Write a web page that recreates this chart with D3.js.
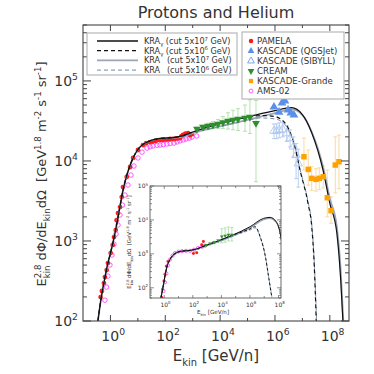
<!DOCTYPE html>
<html>
<head>
<meta charset="utf-8">
<script src="https://cdn.jsdelivr.net/npm/d3@7"></script>
<style>
body { margin: 0; background: #fff; }
text { font-family: "DejaVu Sans", sans-serif; fill: #333; white-space: pre; }
</style>
</head>
<body>
<svg id="chart" width="374" height="374"></svg>
<script>
// ---- model curves, main panel (E in GeV/n, flux in E^2.8 units) ----
var kraG7E = [0.35,0.45,0.6,0.8,1,1.5,2,3,4,6,10,15,30,60,100,200,400,1e3,1e4,1e5,1e6,4e6,1e7,2.2e7,5.6e7,1e8,1.8e8,2.5e8,3e8];
var kraG7F = [100,185,320,520,700,1300,2200,4600,6700,10000,13900,16000,18000,19000,19300,19600,20500,23000,29500,35500,42600,46300,38000,22400,7800,2950,1260,320,100];
var kraG6E = [0.35,0.45,0.6,0.8,1,1.5,2,3,4,6,10,15,30,60,100,200,400,1e3,1e4,1e5,3e5,1e6,1.5e6,3e6,5.4e6,8.1e6,1.6e7,2.2e7,2.7e7,3.2e7];
var kraG6F = [100,185,320,520,700,1300,2200,4600,6700,10000,13900,16000,18000,19000,19300,19600,20500,23000,29500,35000,37000,36000,34000,26000,14800,7800,2950,1480,500,100];
var kra7E = [0.35,0.45,0.6,0.8,1,1.5,2,3,4,6,10,15,30,60,100,200,400,1e3,1e4,1e5,1e6,4e6,1e7,2.2e7,5.6e7,1e8,1.8e8,2.5e8,3.1e8];
var kra7F = [100,185,320,520,700,1300,2200,4600,6700,10000,13900,16000,18000,19000,19300,19500,20000,22300,27000,32500,39500,44000,37500,23000,8600,3400,1500,420,100];
var kra6E = [0.35,0.45,0.6,0.8,1,1.5,2,3,4,6,10,15,30,60,100,200,400,1e3,1e4,1e5,3e5,1e6,1.5e6,3e6,5.4e6,8.1e6,1.6e7,2.2e7,2.7e7,3.3e7];
var kra6F = [100,185,320,520,700,1300,2200,4600,6700,10000,13900,16000,18000,19000,19300,19500,20000,22300,27000,32000,34500,33500,32000,25000,14800,8000,3100,1600,560,100];

// ---- data sets, main panel ----
var pamelaE = [0.44,0.49,0.58,0.63,0.73,0.81,1.02,1.21,1.35,1.56,1.69,1.89,2.24,2.58,2.87,3.92,5.2,6.7,10.1,15.4,20,27.7,35,45,64,80,100,120,149,190,230,280,344,380,443,540,673,800,942];
var pamelaF = [199,237,298,354,433,530,706,889,1120,1370,1820,2230,2650,3540,4720,6300,8400,10900,13700,15800,16700,17200,17500,17800,18200,18300,18500,18600,18800,18900,19000,19200,19300,20300,21100,22000,22300,21000,21700];
var amsE = [0.63,0.72,0.81,0.96,1.14,1.35,1.6,1.89,2.23,2.75,3.4,4.37,5.6,7.2,10.1,14.2,21.5,28,35.7,50,64,85,115,150,208,270,344,450,569,750,942,1400];
var amsF = [182,265,364,500,667,915,1220,1580,2110,2810,3750,5000,6670,8640,10900,12900,14500,15000,15400,15700,15800,16000,16300,16500,16700,17300,17800,18300,18800,19300,19900,20500];
var creamE  = [1430,2370,3600,5480,8350,12700,19300,29400,44800,80500,122000,203000];
var creamF  = [25100,26500,27300,28100,28900,30200,31600,32500,33400,34400,35400,29500];
var creamHi = [26500,28000,29500,31000,33000,36000,40000,43000,45000,50000,58000,57000];
var creamLo = [23800,25000,25300,25500,25500,25500,25000,24500,24000,23500,22000,5500];
var qgsE = [9.2e5,1.4e6,1.8e6,2.3e6,3.0e6,3.8e6,4.9e6];
var qgsF = [47200,40800,53000,56100,43300,39700,37500];
var sibE  = [9.2e5,1.15e6,1.44e6,1.91e6,2.7e6,3.55e6,4.7e6,5.9e6,7.1e6];
var sibF  = [23700,23700,24300,24800,22100,19200,15100,11900,9300];
var sibHi = [29000,29000,30000,30500,27500,24500,20000,16500,14000];
var sibLo = [19000,19000,19500,20000,17500,15000,11000,6000,4700];
var grandeE  = [1.14e7,1.64e7,2.18e7,3.12e7,4.12e7,5.77e7,8.07e7,1.11e8,1.58e8,2.15e8];
var grandeF  = [11300,7850,6070,5890,6070,6350,3470,2390,8890,9780];
var grandeHi = [19300,13700,8500,8000,8200,8700,7700,3550,20000,21000];
var grandeLo = [7700,5000,4300,4200,4400,4600,2000,1660,4000,4500];

// ---- inset panel ----
var inG7E = [0.59,0.85,1.12,1.47,2.5,5.6,16.6,63,187,550,4800,69000,1.03e6,8.9e6,2.6e7,6.9e7,1.3e8,1.6e8];
var inG7F = [52,115,224,390,680,1020,1200,1260,1400,1670,2330,3650,6320,11100,11900,8870,4140,2500];
var inG6E = [0.59,0.85,1.12,1.47,2.5,5.6,16.6,63,187,550,4800,69000,3e5,1e6,2.3e6,5.2e6,1.2e7,2e7,3.4e7];
var inG6F = [52,115,224,390,680,1020,1200,1260,1400,1670,2330,3650,4500,5400,6300,3200,850,220,52];
var in7E = [0.59,0.85,1.12,1.47,2.5,5.6,16.6,63,187,550,4800,69000,1.03e6,8.9e6,2.6e7,6.9e7,1.3e8,1.6e8];
var in7F = [52,115,224,390,680,1020,1200,1260,1390,1630,2200,3400,5800,10200,11200,8600,4300,2700];
var in6E = [0.59,0.85,1.12,1.47,2.5,5.6,16.6,63,187,550,4800,69000,3e5,1e6,2.3e6,5.2e6,1.2e7,2e7,3.5e7];
var in6F = [52,115,224,390,680,1020,1200,1260,1390,1630,2200,3400,4200,5000,5800,3100,850,220,52];
var inPamE = [0.66,0.77,0.95,1.12,1.42,1.82,110,186,420,550];
var inPamF = [52,91,158,250,430,600,1020,1070,1860,2330];
var inAmsE = [0.88,1.12,1.42,1.82,2.5,3.8,5.6,10,17.5,33,63,120,230,445,720];
var inAmsF = [80,145,263,457,680,890,1050,1170,1200,1230,1230,1320,1480,1620,1740];
var inCreamE  = [850,1620,3100,5900,10700,18300,31000,54000];
var inCreamF  = [1810,2000,2200,2450,3240,3400,3640,3640];
var inCreamHi = [1900,2100,2350,2650,5500,5800,6200,6000];
var inCreamLo = [1720,1900,2050,2250,2100,2200,2400,2400];

var yMajor = [1e2,1e3,1e4,1e5];
var xLabelExp = [0,2,4,6,8];
var inYMajor = [1e2,1e3,1e4,1e5];
var modelCuts = ["7","6","7","6"];
var dataRows = ["PAMELA","KASCADE (QGSJet)","KASCADE (SIBYLL)","CREAM","KASCADE-Grande","AMS-02"];

var svg = d3.select("#chart");
svg.append("rect").attr("width",374).attr("height",374).attr("fill","#fff");

function zip(a,b){ return a.map(function(v,i){ return [v,b[i]]; }); }

// text with super/subscripts; kind 1 sup, -1 sub; back=true stacks on previous part
function rich(g, parts, fs){
  var t = g.append("text").attr("font-size", fs);
  var cur = 0, prev = null;
  parts.forEach(function(p){
    var s = p[0], k = p[1] || 0, back = p[2];
    var target = k === 1 ? -0.42*fs : (k === -1 ? 0.3*fs : 0);
    var ts = t.append("tspan").text(s).attr("dy", target - cur)
              .attr("font-size", k ? fs*0.66 : fs);
    if (back === true && prev) ts.attr("dx", -prev.node().getComputedTextLength());
    else if (typeof back === "number") ts.attr("dx", back);
    cur = target; prev = ts;
  });
  return t;
}

var fluxParts = [["E"],["kin",-1],["2.8",1,true],[" dΦ/dE"],["kin",-1],["dΩ  [GeV"],["1.8",1],[" m"],["-2",1],[" s"],["-1",1],[" sr"],["-1",1],["]"]];
var ekinParts = [["E"],["kin",-1],[" [GeV/n]"]];

function panel(opt){
  var x = d3.scaleLog().domain(opt.xd).range([opt.l,opt.r]);
  var y = d3.scaleLog().domain(opt.yd).range([opt.b,opt.t]);
  var g = svg.append("g");
  g.append("rect").attr("x",opt.l).attr("y",opt.t).attr("width",opt.r-opt.l).attr("height",opt.b-opt.t)
   .attr("fill","#fff");
  var cid = "clip"+opt.id;
  g.append("clipPath").attr("id",cid).append("rect")
   .attr("x",opt.l).attr("y",opt.t).attr("width",opt.r-opt.l).attr("height",opt.b-opt.t);
  var plot = g.append("g").attr("clip-path","url(#"+cid+")");

  // y ticks (major + minor, both sides)
  var yt = g.append("g").attr("stroke","#444").attr("stroke-width",opt.tw);
  var d0 = Math.floor(Math.log10(opt.yd[0])), d1 = Math.ceil(Math.log10(opt.yd[1]));
  for (var e = d0; e <= d1; e++){
    for (var m = 1; m < 10; m++){
      var v = m*Math.pow(10,e);
      if (v < opt.yd[0] || v > opt.yd[1]) continue;
      var len = m === 1 ? opt.yMaj : opt.yMin;
      yt.append("line").attr("x1",opt.l).attr("x2",opt.l+len).attr("y1",y(v)).attr("y2",y(v));
      yt.append("line").attr("x1",opt.r).attr("x2",opt.r-len).attr("y1",y(v)).attr("y2",y(v));
    }
  }
  // x ticks each decade, long on labelled decades
  for (var ex = Math.ceil(Math.log10(opt.xd[0])); ex <= Math.floor(Math.log10(opt.xd[1])); ex++){
    var xv = x(Math.pow(10,ex));
    if (xv <= opt.l+0.5) continue;
    var ln = ex % 2 === 0 ? opt.xMaj : opt.xMin;
    yt.append("line").attr("x1",xv).attr("x2",xv).attr("y1",opt.b).attr("y2",opt.b-ln);
    yt.append("line").attr("x1",xv).attr("x2",xv).attr("y1",opt.t).attr("y2",opt.t+ln);
  }
  g.append("rect").attr("x",opt.l).attr("y",opt.t).attr("width",opt.r-opt.l).attr("height",opt.b-opt.t)
   .attr("fill","none").attr("stroke","#444").attr("stroke-width",opt.fw);

  // tick labels
  opt.yLab.forEach(function(v){
    rich(g, [["10"],[String(Math.round(Math.log10(v))),1]], opt.fs)
      .attr("x",opt.l-opt.yPad).attr("y",y(v)+opt.fs*0.36).attr("text-anchor","end");
  });
  xLabelExp.forEach(function(ex){
    rich(g, [["10"],[String(ex),1]], opt.fs)
      .attr("x",x(Math.pow(10,ex))+opt.fs*0.2).attr("y",opt.b+opt.xPad).attr("text-anchor","middle");
  });
  return {x:x, y:y, g:g, plot:plot};
}

function drawCurve(p, E, F, color, w, dash){
  var line = d3.line().x(function(d){ return p.x(d[0]); }).y(function(d){ return p.y(d[1]); })
               .curve(d3.curveMonotoneX);
  p.plot.append("path").datum(zip(E,F)).attr("d",line).attr("fill","none")
    .attr("stroke",color).attr("stroke-width",w).attr("stroke-dasharray",dash || null);
}
function drawErr(p, E, lo, hi, color, cap){
  var g = p.plot.append("g").attr("stroke",color).attr("stroke-width",0.8);
  E.forEach(function(e,i){
    var xx = p.x(e);
    g.append("line").attr("x1",xx).attr("x2",xx).attr("y1",p.y(lo[i])).attr("y2",p.y(hi[i]));
    g.append("line").attr("x1",xx-cap).attr("x2",xx+cap).attr("y1",p.y(lo[i])).attr("y2",p.y(lo[i]));
    g.append("line").attr("x1",xx-cap).attr("x2",xx+cap).attr("y1",p.y(hi[i])).attr("y2",p.y(hi[i]));
  });
}
function drawSym(g, pts, type, size, fill, stroke, rot){
  var sym = d3.symbol().type(type).size(size);
  g.selectAll(null).data(pts).enter().append("path").attr("d",sym)
    .attr("transform",function(d){ return "translate("+d[0]+","+d[1]+")"+(rot ? " rotate(180)" : ""); })
    .attr("fill",fill).attr("stroke",stroke || "none").attr("stroke-width",0.8);
}
function pts(p, E, F){ return E.map(function(e,i){ return [p.x(e), p.y(F[i])]; }); }

var RED = "#ff1a1a", MAG = "#ff33ff", BLUE = "#5b8fe8", LBLUE = "#a9c3f0",
    GREEN = "#2f8f2f", LGREEN = "#a6d9a0", ORANGE = "#ffa200", LORANGE = "#fad08a",
    GREY = "#9aa6b6", DGREY = "#6e8aa8";

// ---- main panel ----
var P = panel({id:"m", xd:[0.1,5e8], yd:[100,5e5], l:83, r:349, t:25, b:321,
  fs:14, yMaj:8, yMin:4, xMaj:6, xMin:3, fw:1.1, tw:1, yLab:yMajor, yPad:5, xPad:20});

drawSym(P.plot, pts(P, amsE, amsF), d3.symbolCircle, 16, "none", MAG);
drawSym(P.plot, pts(P, pamelaE, pamelaF), d3.symbolCircle, 18, RED);
drawErr(P, creamE, creamLo, creamHi, LGREEN, 2);
drawErr(P, sibE, sibLo, sibHi, LBLUE, 2);
drawErr(P, grandeE, grandeLo, grandeHi, LORANGE, 2);
drawCurve(P, kra7E, kra7F, GREY, 1.8);
drawCurve(P, kra6E, kra6F, DGREY, 1, "4,3");
drawCurve(P, kraG7E, kraG7F, "#111", 1.2);
drawCurve(P, kraG6E, kraG6F, "#111", 1.2, "4,3");
drawSym(P.plot, pts(P, creamE, creamF), d3.symbolTriangle, 26, GREEN, null, true);
drawSym(P.plot, pts(P, sibE, sibF), d3.symbolTriangle, 30, "none", LBLUE);
drawSym(P.plot, pts(P, qgsE, qgsF), d3.symbolTriangle, 34, BLUE);
drawSym(P.plot, pts(P, grandeE, grandeF), d3.symbolSquare, 30, ORANGE);

// axis titles
rich(svg, ekinParts, 15).attr("x",216).attr("y",361).attr("text-anchor","middle");
rich(svg, fluxParts, 13).attr("text-anchor","middle")
  .attr("transform","translate(46,174) rotate(-90)");
svg.append("text").attr("x",216).attr("y",18).attr("text-anchor","middle")
  .attr("font-size",16).text("Protons and Helium");

// ---- legends ----
var lg = svg.append("g");
lg.append("rect").attr("x",87).attr("y",33).attr("width",150).attr("height",42)
  .attr("fill","#fff").attr("stroke","#aaa").attr("stroke-width",1);
var modelStyle = [
  {g:true, c:"#111", w:1.3, d:null},
  {g:true, c:"#111", w:1.2, d:"4,3"},
  {g:false, c:GREY, w:1.8, d:null},
  {g:false, c:DGREY, w:1, d:"4,3"}];
modelStyle.forEach(function(r,i){
  var yy = 41 + i*9.7;
  lg.append("line").attr("x1",97).attr("x2",138).attr("y1",yy).attr("y2",yy)
    .attr("stroke",r.c).attr("stroke-width",r.w).attr("stroke-dasharray",r.d);
  var parts = r.g ? [["KRA"],["γ",-1],[" (cut 5x10"],[modelCuts[i],1],[" GeV)"]]
                  : [["KRA"],[" (cut 5x10",0,4.2],[modelCuts[i],1],[" GeV)"]];
  rich(lg, parts, 8.1).attr("x",144).attr("y",yy+3);
});

lg.append("rect").attr("x",242).attr("y",32).attr("width",102).attr("height",67)
  .attr("fill","#fff").attr("stroke","#aaa").attr("stroke-width",1);
dataRows.forEach(function(name,i){
  var yy = 41 + i*10;
  lg.append("text").attr("x",257).attr("y",yy+3).attr("font-size",8.6).text(name);
});
drawSym(lg, [[251,41]], d3.symbolCircle, 16, RED);
drawSym(lg, [[251,51]], d3.symbolTriangle, 20, BLUE);
drawSym(lg, [[251,61]], d3.symbolTriangle, 20, "none", BLUE);
drawSym(lg, [[251,71]], d3.symbolTriangle, 20, GREEN, null, true);
drawSym(lg, [[251,81]], d3.symbolSquare, 18, ORANGE);
drawSym(lg, [[251,91]], d3.symbolCircle, 12, "none", MAG);

// ---- inset panel ----
var I = panel({id:"i", xd:[0.1,1.5e8], yd:[50,1e5], l:150, r:281, t:186, b:298,
  fs:6, yMaj:4, yMin:2, xMaj:3, xMin:2, fw:0.8, tw:0.6, yLab:inYMajor, yPad:2, xPad:9});
drawSym(I.plot, pts(I, inAmsE, inAmsF), d3.symbolCircle, 8, "none", MAG);
drawSym(I.plot, pts(I, inPamE, inPamF), d3.symbolCircle, 7, RED);
drawErr(I, inCreamE, inCreamLo, inCreamHi, LGREEN, 1.5);
drawCurve(I, in7E, in7F, GREY, 1.4);
drawCurve(I, in6E, in6F, DGREY, 0.8, "3,2");
drawCurve(I, inG7E, inG7F, "#111", 1);
drawCurve(I, inG6E, inG6F, "#111", 1, "3,2");
drawSym(I.plot, pts(I, inCreamE, inCreamF), d3.symbolTriangle, 6, GREEN, null, true);
rich(svg, ekinParts, 5.6).attr("x",213).attr("y",314).attr("text-anchor","middle");
rich(svg, fluxParts, 5.4).attr("text-anchor","middle")
  .attr("transform","translate(131,242) rotate(-90)");
</script>
</body>
</html>
